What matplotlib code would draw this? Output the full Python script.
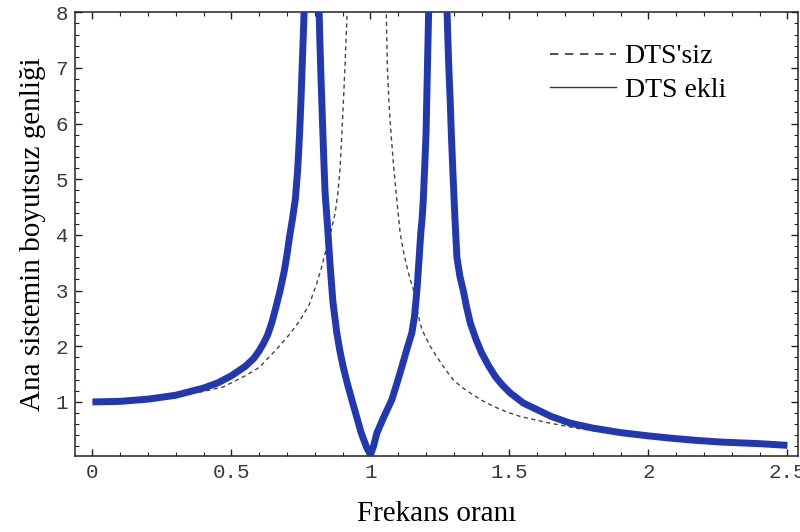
import numpy as np
from matplotlib import pyplot as plt
from matplotlib.lines import Line2D
from matplotlib.ticker import MultipleLocator

# DTS ekli (with absorber)
x_ekli = [0.0, 0.1, 0.2, 0.3, 0.4, 0.45, 0.5, 0.55, 0.58, 0.6, 0.615, 0.63, 0.645, 0.66,
          0.675, 0.69, 0.70, 0.71, 0.72, 0.73, 0.738, 0.745, 0.75, 0.755, 0.76, 0.765,
          0.78, 0.80, 0.815, 0.818, 0.821, 0.825, 0.829, 0.833, 0.837, 0.845, 0.855,
          0.865, 0.879, 0.89, 0.902, 0.917, 0.933, 0.95, 0.967, 0.985, 1.0, 1.012,
          1.023, 1.05, 1.077, 1.095, 1.113, 1.13, 1.149, 1.158, 1.164, 1.169, 1.173,
          1.177, 1.181, 1.186, 1.19, 1.195, 1.2, 1.205, 1.212, 1.225, 1.24, 1.26,
          1.274, 1.278, 1.282, 1.287, 1.291, 1.296, 1.303, 1.311, 1.322, 1.334, 1.346,
          1.359, 1.38, 1.40, 1.425, 1.45, 1.475, 1.503, 1.55, 1.6, 1.65, 1.718, 1.8,
          1.898, 2.0, 2.078, 2.17, 2.258, 2.4, 2.5]
y_ekli = [1.00, 1.01, 1.05, 1.12, 1.25, 1.34, 1.47, 1.64, 1.78, 1.92, 2.05, 2.2, 2.42, 2.7,
          3.0, 3.35, 3.65, 4.0, 4.3, 4.65, 5.15, 5.8, 6.4, 7.1, 7.8, 8.6,
          12.0, 30.0, 8.1, 7.5, 7.0, 6.4, 5.82, 5.25, 4.75, 4.2, 3.45,
          2.8, 2.24, 1.92, 1.63, 1.33, 1.04, 0.74, 0.44, 0.2, 0.05, 0.22,
          0.44, 0.75, 1.04, 1.33, 1.63, 1.93, 2.24, 2.52, 2.83, 3.12, 3.43,
          3.72, 4.03, 4.3, 4.62, 5.2, 5.82, 7.0, 8.6, 12.0, 30.0, 12.0,
          8.3, 7.6, 7.0, 6.4, 5.82, 5.2, 4.4, 3.6, 3.25, 3.0, 2.7,
          2.42, 2.12, 1.88, 1.65, 1.45, 1.3, 1.16, 0.98, 0.86, 0.74, 0.62, 0.53,
          0.45, 0.39, 0.35, 0.31, 0.28, 0.25, 0.22]

# DTS'siz (without absorber)
x_siz = [0.0, 0.1, 0.2, 0.3, 0.4, 0.471, 0.55, 0.6, 0.663, 0.71, 0.747, 0.78, 0.807,
         0.825, 0.843, 0.858, 0.873, 0.883, 0.891, 0.897, 0.903, 0.909, 0.915, 0.93,
         0.96, 1.0, 1.04, 1.056, 1.061, 1.067, 1.074, 1.084, 1.095, 1.107, 1.119,
         1.131, 1.143, 1.155, 1.167, 1.179, 1.191, 1.215, 1.239, 1.27, 1.299, 1.33,
         1.359, 1.4, 1.443, 1.49, 1.538, 1.635, 1.75, 1.9, 2.1, 2.3, 2.5]
y_siz = [1.0, 1.01, 1.04, 1.10, 1.19, 1.27, 1.47, 1.62, 1.95, 2.22, 2.47, 2.75, 3.13,
         3.43, 3.79, 4.07, 4.39, 4.75, 5.22, 5.8, 6.42, 7.1, 7.86, 9.5,
         14.0, 30.0, 12.0, 8.2, 7.0, 6.35, 5.82, 5.2, 4.62, 4.03, 3.7,
         3.43, 3.2, 3.01, 2.68, 2.4, 2.24, 2.0, 1.81, 1.58, 1.39, 1.26,
         1.16, 1.03, 0.92, 0.82, 0.74, 0.63, 0.52, 0.42, 0.33, 0.26, 0.21]

blue = "#2238b0"
serif = "Liberation Serif"
mono = "Liberation Mono"

fig = plt.figure(figsize=(8, 5.32), dpi=100)
ax = fig.add_axes([0.094, 0.143, 0.9035, 0.834])

ax.plot(x_siz, y_siz, color="#444444", lw=1.0, dashes=(3, 2.5), zorder=2)
ax.plot(x_ekli, y_ekli, color=blue, lw=5.0, solid_capstyle="butt",
        solid_joinstyle="round", zorder=3)

ax.set_xlim(-0.062, 2.538)
ax.set_ylim(0.03, 8.0)

ax.set_xticks([0, 0.5, 1, 1.5, 2, 2.5])
ax.set_xticklabels(["0", "0.5", "1", "1.5", "2", "2.5"])
ax.xaxis.set_minor_locator(MultipleLocator(0.1))
ax.set_yticks([1, 2, 3, 4, 5, 6, 7, 8])
ax.yaxis.set_minor_locator(MultipleLocator(0.2))

ax.tick_params(which="both", direction="in", top=True, right=True, color="#222222")
ax.tick_params(which="major", length=5, width=1.0, labelsize=15, labelcolor="#3a3a3a", pad=5)
ax.tick_params(which="minor", length=3, width=0.8)
for lab in ax.get_xticklabels() + ax.get_yticklabels():
    lab.set_family(mono)

for s in ax.spines.values():
    s.set_linewidth(1.1)
    s.set_color("#222222")

ax.set_xlabel("Frekans oranı", family=serif, fontsize=21, labelpad=14)
ax.set_ylabel("Ana sistemin boyutsuz genliği", family=serif, fontsize=21, labelpad=7)

handles = [Line2D([], [], color="#333333", lw=1.2, dashes=(5, 4)),
           Line2D([], [], color="#2a2f6a", lw=1.0)]
ax.legend(handles, ["DTS'siz", "DTS ekli"], loc="upper right",
          bbox_to_anchor=(0.935, 0.985), frameon=False, handlelength=2.4,
          handletextpad=0.3, labelspacing=0.3, prop={"family": serif, "size": 20})

fig.savefig("out.png", dpi=100)
